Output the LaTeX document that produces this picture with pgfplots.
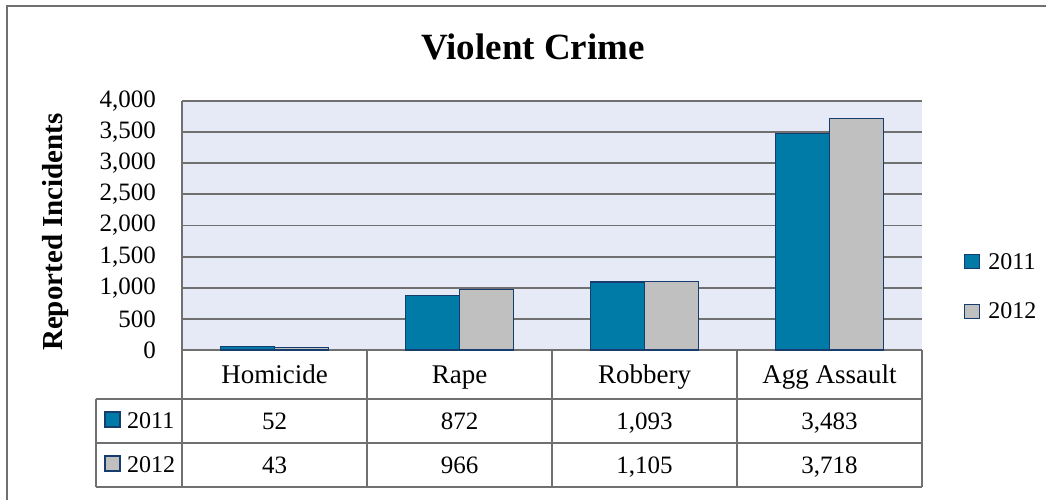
\documentclass[border=0pt]{standalone}
\usepackage{pgfplots}
\pgfplotsset{compat=1.18}
\usepackage{fontspec}
\setmainfont{Liberation Serif}

\definecolor{c2011}{RGB}{0,123,167}
\definecolor{c2012}{RGB}{192,192,192}
\definecolor{edge}{RGB}{23,60,110}
\definecolor{plotbg}{RGB}{230,234,246}
\definecolor{gridc}{RGB}{112,112,112}

\begin{document}
\begin{tikzpicture}[x=1pt,y=1pt]
\clip (0,0) rectangle (1046,499);
% outer frame (cut off at right and bottom)
\draw[gridc, line width=2pt] (7,-20) -- (7,493) -- (1070,493);

\begin{axis}[
    at={(182pt,149pt)}, anchor=south west,
    scale only axis, width=740pt, height=249pt,
    ybar=0pt, bar width=54pt,
    xmin=0.5, xmax=4.5, ymin=0, ymax=4000,
    xtick=\empty, ytick={0,500,...,4000},
    axis x line*=bottom, axis y line*=left,
    axis line style={gridc, line width=1.8pt},
    ymajorgrids, grid style={gridc, line width=1.8pt},
    axis background/.style={fill=plotbg},
    major tick length=0pt,
    yticklabel style={font=\fontsize{25}{25}\selectfont, inner sep=0pt, xshift=-26pt,
        /pgf/number format/fixed, /pgf/number format/1000 sep={,},
        /pgf/number format/assume math mode=true},
    legend image code/.code={\draw[#1] (0pt,-7pt) rectangle (15pt,7pt);},
    legend style={draw=none, fill=none, inner sep=0pt,
        at={(rel axis cs:1.0568,0.255)}, anchor=west,
        font=\fontsize{24}{24}\selectfont, row sep=28pt,
        /tikz/every odd column/.append style={column sep=6pt}},
    legend cell align=left,
]
\addplot[fill=c2011, draw=edge, line width=1.2pt] coordinates {(1,52) (2,872) (3,1093) (4,3483)};
\addlegendentry{2011}
\addplot[fill=c2012, draw=edge, line width=1.2pt] coordinates {(1,43) (2,966) (3,1105) (4,3718)};
\addlegendentry{2012}
\end{axis}

% title and y label
\node[font=\bfseries\fontsize{37}{37}\selectfont, anchor=base] at (533,439) {Violent Crime};
\node[font=\bfseries\fontsize{29}{29}\selectfont, rotate=90] at (56,267) {Reported Incidents};

% data table
\draw[gridc, line width=1.8pt]
    (182,149) -- (182,12) (367,149) -- (367,12) (552,149) -- (552,12)
    (737,149) -- (737,12) (922,149) -- (922,12)
    (96,100) -- (922,100) (96,56) -- (922,56) (96,12) -- (922,12)
    (96,100) -- (96,12);
\begin{scope}[every node/.style={anchor=base, font=\fontsize{27}{27}\selectfont}]
\node at (274.5,116) {Homicide};
\node at (459.5,116) {Rape};
\node at (644.5,116) {Robbery};
\node at (829.5,116) {Agg Assault};
\end{scope}
\begin{scope}[every node/.style={anchor=base, font=\fontsize{25}{25}\selectfont}]
\node at (274.5,70) {52};
\node at (459.5,70) {872};
\node at (644.5,70) {1,093};
\node at (829.5,70) {3,483};
\node at (274.5,26) {43};
\node at (459.5,26) {966};
\node at (644.5,26) {1,105};
\node at (829.5,26) {3,718};
\end{scope}
\draw[edge, fill=c2011, line width=1.2pt] (105,72) rectangle (120,87);
\draw[edge, fill=c2012, line width=1.2pt] (105,28) rectangle (120,43);
\node[anchor=base west, inner sep=0pt, font=\fontsize{24}{24}\selectfont] at (127,71) {2011};
\node[anchor=base west, inner sep=0pt, font=\fontsize{24}{24}\selectfont] at (127,27) {2012};
\end{tikzpicture}
\end{document}
